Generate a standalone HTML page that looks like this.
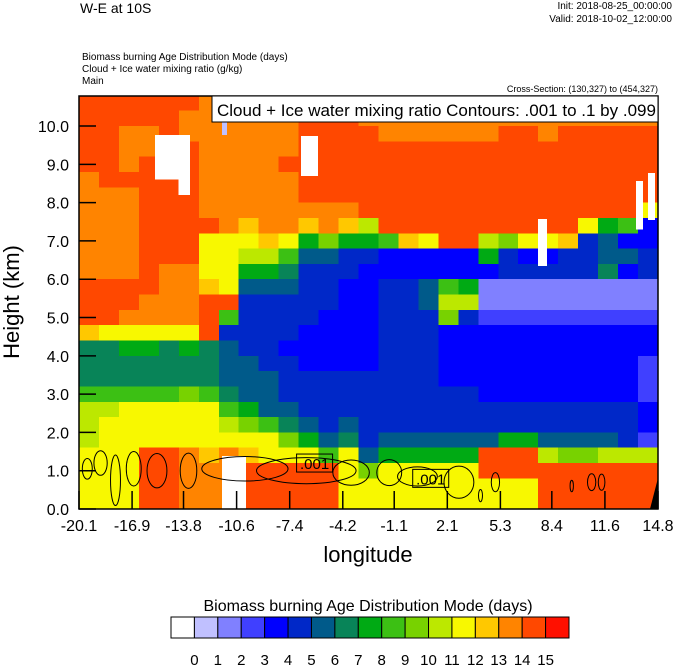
<!DOCTYPE html>
<html><head><meta charset="utf-8"><style>
body{margin:0;background:#fff;}
svg text{font-family:"Liberation Sans",Arial,sans-serif;}
</style></head><body>
<svg id="chart" width="674" height="667" xmlns="http://www.w3.org/2000/svg">
<g id="cells" shape-rendering="crispEdges"></g>
<g id="overlays" shape-rendering="crispEdges"></g>
<g id="contours" fill="none" stroke="#000" stroke-width="1"></g>
<polygon points="650,509 658,478 658,509" fill="#000"/>
<rect x="79" y="96" width="579" height="413" fill="none" stroke="#000" stroke-width="1.5"/>
<g id="axes"></g>
<text x="80" y="13" font-size="14">W-E at 10S</text>
<text x="672" y="9" font-size="10" text-anchor="end">Init: 2018-08-25_00:00:00</text>
<text x="672" y="22" font-size="10" text-anchor="end">Valid: 2018-10-02_12:00:00</text>
<text x="82" y="60" font-size="10">Biomass burning Age Distribution Mode   (days)</text>
<text x="82" y="72" font-size="10">Cloud + Ice water mixing ratio   (g/kg)</text>
<text x="82" y="84" font-size="10">Main</text>
<text x="658" y="92" font-size="9" text-anchor="end">Cross-Section: (130,327) to (454,327)</text>
<rect x="212" y="96" width="446" height="26" fill="#fff" stroke="#000"/>
<text x="217" y="116" font-size="17">Cloud + Ice water mixing ratio Contours: .001 to .1 by .099</text>
<text x="368" y="562" font-size="22" text-anchor="middle">longitude</text>
<text transform="translate(19,302) rotate(-90)" font-size="22" text-anchor="middle">Height (km)</text>
<text x="368" y="611" font-size="16" text-anchor="middle">Biomass burning Age Distribution Mode  (days)</text>
<g id="colorbar"></g>
</svg>
<script>
const palette = ["#ffffff","#c0c0ff","#8080ff","#4040ff","#0000ff","#0028c8","#005a8a","#088458","#00aa14","#3cc014","#78d200","#bce800","#f8f800","#ffc800","#ff8400","#ff4800","#ff1000"];
const colorbarLabels = ["0","1","2","3","4","5","6","7","8","9","10","11","12","13","14","15"];
const xTickLabels = ["-20.1","-16.9","-13.8","-10.6","-7.4","-4.2","-1.1","2.1","5.3","8.4","11.6","14.8"];
const yTickValues = [0,1,2,3,4,5,6,7,8,9,10];
const lonMin = -20.1, lonMax = 14.8, hMin = 0, hMax = 10.8;
// columns west->east, each string top (10.6 km) -> bottom (0.2 km)
const columns = [
"FFFFFEEEEEEEFFFD7779BBBCCCC",
"FFFFFFEEEEEEFFFC7779BCCCCCC",
"FFEEEFEEEEEEFFEC8779CCCCCCC",
"FFEEFFFFFFFFFEEC8779CCCFFFF",
"FFFFFFFFFFFEEEEC7779CCCFFFF",
"FEEFFFFFFFFEEEEC877ACCCEEEE",
"EEEEEEEEFCCCDFFF7779CCCDEEE",
"EEEEEEEEECCCCF9566679BCEEEE",
"EEEEEEEEDCB8655556668ACDFFF",
"EEEEEEEEEDB86555556669CCFFF",
"EEEEFEEEEC976555455567ACFFF",
"FFFFFFFED86555544455568CFFF",
"FFFFFFFEEA65554444555569FFF",
"FFFFFFFED85544444455567CCCC",
"EEFFFFFFB854444444555556ACC",
"EEEFFFFFF944555555555568CCC",
"EEEFFFFFFD44555555555568CCC",
"EEEFFFFFFC44665555555568CCC",
"EEEFFFFFFF449BA444455568CCC",
"EEEFFFFFFF448B5444455568CCC",
"EEEFFFFFFB8422344444556FFCC",
"EEFFFFFFFA5522344444558FFCC",
"EEFFFFFFFC4522344444558FFCC",
"EEEFFFFFFC4522344444556BFFF",
"EEFFFFFFFD5522344444556AFFF",
"EEFFFFFFC55522344444556AFFF",
"EEFFFFFF866722344444556BFFF",
"EEFFFFFF946422344444555BFFF",
"EEFFFFFC445522344333443BFFF"
];
// patches: [lonWest, lonEast, hBottom, hTop, colorIndex]
const patches = [
[-15.52,-13.41,8.6,9.77,0],[-14.1,-13.41,8.2,8.6,0],[-6.72,-5.69,8.7,9.74,0],
[-11.48,-11.18,9.77,10.1,1],[7.57,8.11,6.35,7.57,0],[13.47,13.9,7.3,8.56,0],
[14.2,14.62,7.55,8.77,0],[-11.48,-10.03,0,1.38,0]
];
// contour loops: [lonCenter, hCenter, lonRadius, hRadius]
const loops = [
[-19.6,1.05,0.3,0.27],[-18.8,1.2,0.4,0.32],[-17.9,0.75,0.3,0.66],[-16.8,1.05,0.45,0.45],
[-15.4,1.0,0.6,0.45],[-13.5,1.0,0.5,0.46],[-10.1,1.05,2.6,0.32],[-6.4,1.0,3.0,0.34],
[-3.7,0.95,1.1,0.33],[-1.4,0.95,0.75,0.34],[0.3,0.85,1.2,0.25],[2.8,0.7,0.9,0.42],
[4.1,0.35,0.12,0.16],[5.0,0.7,0.25,0.25],[9.6,0.6,0.1,0.15],[10.8,0.7,0.25,0.22],[11.4,0.7,0.2,0.21]
];
const labels = [[-5.9,1.2,".001"],[1.1,0.8,".001"]];
const X = v => 79 + (v - lonMin) / (lonMax - lonMin) * 579;
const Y = h => 509 - (h - hMin) / (hMax - hMin) * 413.6;
const NS = "http://www.w3.org/2000/svg";
const mk = (t, a) => { const e = document.createElementNS(NS, t); for (const k in a) e.setAttribute(k, a[k]); return e; };
const cells = document.getElementById("cells");
const nC = columns.length, nR = 27, dLon = (lonMax - lonMin) / nC, dH = hMax / nR;
columns.forEach((col, c) => {
  for (let r = 0; r < nR; r++) {
    const v = parseInt(col[r] || "0", 17);
    const h1 = hMax - r * dH, h0 = h1 - dH;
    const x0 = X(lonMin + c * dLon), x1 = X(lonMin + (c + 1) * dLon);
    const e = mk("rect", {x: x0, y: Y(h1), width: x1 - x0 + 0.6, height: Y(h0) - Y(h1) + 0.6, fill: palette[v]});
    
    
    cells.appendChild(e);
  }
});
const ov = document.getElementById("overlays");
patches.forEach(p => {
  const e = mk("rect", {x: X(p[0]), y: Y(p[3]), width: X(p[1]) - X(p[0]), height: Y(p[2]) - Y(p[3]), fill: palette[p[4]]});
  
  
  ov.appendChild(e);
});
const cg = document.getElementById("contours");
loops.forEach(l => {
  const e = mk("ellipse", {cx: X(l[0]), cy: Y(l[1]), rx: X(l[0] + l[2]) - X(l[0]), ry: Y(0) - Y(l[3])});
  
  
  cg.appendChild(e);
});
labels.forEach(l => {
  const x = X(l[0]), y = Y(l[1]);
  const b = mk("rect", {x: x - 18, y: y - 9, width: 36, height: 18, fill: "none", stroke: "#000"});
  
  
  cg.appendChild(b);
  const t = mk("text", {x: x, y: y + 6, "font-size": 15, "text-anchor": "middle", fill: "#000", stroke: "none"});
  t.textContent = l[2];
  
  
  cg.appendChild(t);
});
const ax = document.getElementById("axes");
yTickValues.forEach(v => {
  const y = Y(v);
  const l = mk("line", {x1: 79, x2: 96, y1: y, y2: y, stroke: "#000", "stroke-width": 1.5});
  
  
  ax.appendChild(l);
  const t = mk("text", {x: 69, y: y + 6, "font-size": 16, "text-anchor": "end"});
  t.textContent = v.toFixed(1);
  
  
  ax.appendChild(t);
});
xTickLabels.forEach((s, i) => {
  const x = X(parseFloat(s));
  const l = mk("line", {x1: x, x2: x, y1: 491, y2: 509, stroke: "#000", "stroke-width": 1.5});
  
  
  ax.appendChild(l);
  const t = mk("text", {x: x, y: 531, "font-size": 16, "text-anchor": "middle"});
  t.textContent = s;
  
  
  ax.appendChild(t);
});
const cb = document.getElementById("colorbar");
const bw = 398 / 17;
palette.forEach((col, i) => {
  const e = mk("rect", {x: 171 + i * bw, y: 617, width: bw, height: 21, fill: col, stroke: "#000"});
  
  
  cb.appendChild(e);
});
colorbarLabels.forEach((s, i) => {
  const t = mk("text", {x: 171 + (i + 1) * bw, y: 665, "font-size": 15, "text-anchor": "middle"});
  t.textContent = s;
  
  
  cb.appendChild(t);
});
</script>
</body></html>
